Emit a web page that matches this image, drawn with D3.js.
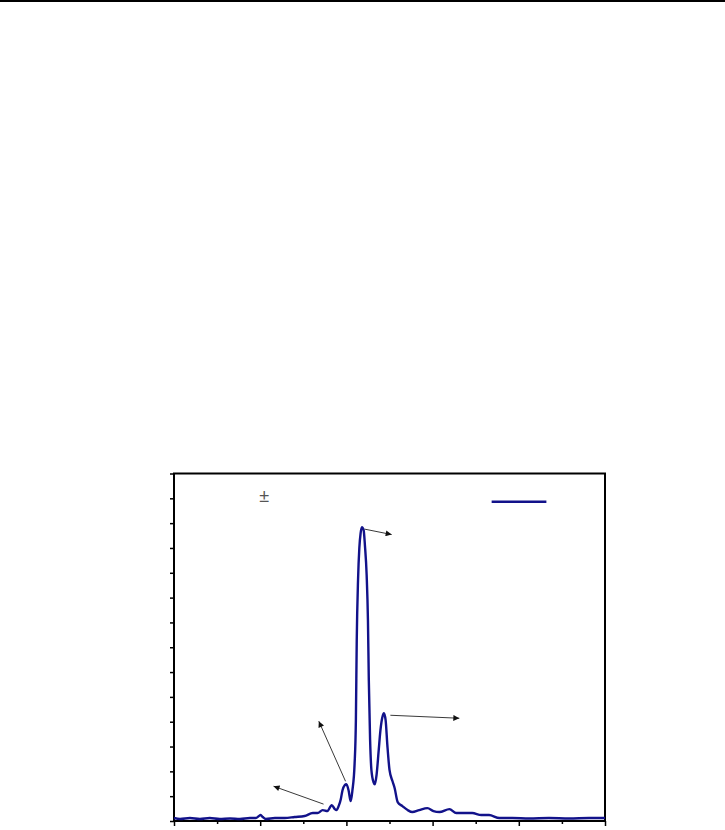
<!DOCTYPE html>
<html>
<head>
<meta charset="utf-8">
<script src="https://d3js.org/d3.v7.min.js"></script>
<style>
  body { margin: 0; background: #fff; }
  svg { display: block; }
</style>
</head>
<body>
<svg width="725" height="830"></svg>
<script>
// spectrum (x in axis units 0..10, y in axis units 0..7)
var xs = [0, 0.14, 0.37, 0.60, 0.83, 1.06, 1.30, 1.53, 1.76, 1.90, 1.97, 2.01, 2.06, 2.13, 2.34, 2.57, 2.80, 3.03,
          3.22, 3.33, 3.45, 3.56, 3.66, 3.73, 3.77, 3.82, 3.87, 3.91, 3.96, 4.00, 4.05, 4.10, 4.14, 4.19, 4.22,
          4.24, 4.27, 4.30, 4.33, 4.36, 4.40, 4.43, 4.47, 4.50, 4.52, 4.55, 4.58, 4.63, 4.66, 4.70, 4.75, 4.79,
          4.84, 4.87, 4.91, 4.95, 5.00, 5.07, 5.12, 5.19, 5.30, 5.42, 5.53, 5.69, 5.88, 6.02, 6.16, 6.39, 6.55,
          6.74, 6.92, 7.13, 7.31, 7.55, 7.85, 8.24, 8.70, 9.17, 9.63, 10];
var ys = [0.06, 0.04, 0.06, 0.04, 0.06, 0.04, 0.05, 0.04, 0.06, 0.06, 0.10, 0.12, 0.08, 0.04, 0.06, 0.06, 0.08, 0.10,
          0.16, 0.16, 0.22, 0.20, 0.32, 0.24, 0.22, 0.30, 0.44, 0.62, 0.72, 0.74, 0.62, 0.40, 0.62, 1.15, 2.03,
          3.64, 4.85, 5.50, 5.80, 5.92, 5.86, 5.55, 4.95, 4.04, 2.84, 1.63, 1.03, 0.78, 0.74, 0.93, 1.43, 1.83,
          2.11, 2.17, 2.03, 1.53, 1.03, 0.80, 0.66, 0.38, 0.30, 0.22, 0.18, 0.22, 0.26, 0.20, 0.18, 0.24, 0.16,
          0.16, 0.16, 0.12, 0.12, 0.06, 0.06, 0.05, 0.06, 0.05, 0.06, 0.06];

// peak annotations: [x1, y1, x2, y2]
var arrows = [
  [4.42, 5.88, 5.05, 5.77],
  [5.02, 2.13, 6.62, 2.07],
  [3.98, 0.80, 3.36, 2.01],
  [3.47, 0.34, 2.31, 0.70]
];

var xMajor = [0, 2, 4, 6, 8, 10];
var xMinor = [1, 3, 5, 7, 9];
var yMajor = [0, 1, 2, 3, 4, 5, 6, 7];
var yMinor = [0.5, 1.5, 2.5, 3.5, 4.5, 5.5, 6.5];

var svg = d3.select("svg"),
    width = +svg.attr("width"),
    height = +svg.attr("height");

var plotLeft = 174, plotRight = 605, plotTop = 473.5, plotBottom = 821;

var x = d3.scaleLinear().domain([0, 10]).range([plotLeft, plotRight]);
var y = d3.scaleLinear().domain([0, 7]).range([plotBottom, plotTop]);

// page rule at the very top
svg.append("line")
    .attr("x1", 0).attr("x2", width)
    .attr("y1", 1).attr("y2", 1)
    .attr("stroke", "#000")
    .attr("stroke-width", 2);

svg.append("defs").append("marker")
    .attr("id", "head")
    .attr("viewBox", "0 0 10 10")
    .attr("refX", 10).attr("refY", 5)
    .attr("markerWidth", 9).attr("markerHeight", 6)
    .attr("markerUnits", "userSpaceOnUse")
    .attr("orient", "auto")
  .append("path")
    .attr("d", "M0,0 L10,5 L0,10 z")
    .attr("fill", "#111");

// axes
svg.append("g")
    .attr("transform", "translate(0," + plotBottom + ")")
    .call(d3.axisBottom(x).tickValues(xMajor).tickSize(5).tickFormat(""));
svg.append("g")
    .attr("transform", "translate(0," + plotBottom + ")")
    .call(d3.axisBottom(x).tickValues(xMinor).tickSize(3).tickFormat(""));
svg.append("g")
    .attr("transform", "translate(" + plotLeft + ",0)")
    .call(d3.axisLeft(y).tickValues(yMajor.concat(yMinor)).tickSize(4).tickFormat(""));

svg.selectAll(".domain").remove();
svg.selectAll(".tick line").attr("stroke", "#000").attr("stroke-width", 1.5);

// frame
svg.append("rect")
    .attr("x", plotLeft).attr("y", plotTop)
    .attr("width", plotRight - plotLeft).attr("height", plotBottom - plotTop)
    .attr("fill", "none")
    .attr("stroke", "#000")
    .attr("stroke-width", 2);

var pts = xs.map(function(d, i) { return [d, ys[i]]; });

var line = d3.line()
    .x(function(d) { return x(d[0]); })
    .y(function(d) { return y(d[1]); })
    .curve(d3.curveMonotoneX);

svg.append("path")
    .datum(pts)
    .attr("d", line)
    .attr("fill", "none")
    .attr("stroke", "#12128a")
    .attr("stroke-width", 2.4)
    .attr("stroke-linejoin", "round");

svg.append("g")
  .selectAll("line")
  .data(arrows)
  .enter().append("line")
    .attr("x1", function(d) { return x(d[0]); })
    .attr("y1", function(d) { return y(d[1]); })
    .attr("x2", function(d) { return x(d[2]); })
    .attr("y2", function(d) { return y(d[3]); })
    .attr("stroke", "#222")
    .attr("stroke-width", 0.9)
    .attr("marker-end", "url(#head)");

// legend swatch
svg.append("line")
    .attr("x1", x(7.37)).attr("x2", x(8.64))
    .attr("y1", y(6.43)).attr("y2", y(6.43))
    .attr("stroke", "#12128a")
    .attr("stroke-width", 2.4);

svg.append("text")
    .attr("x", x(2.09)).attr("y", y(6.43))
    .attr("text-anchor", "middle")
    .attr("font-family", "Liberation Sans, Arial, sans-serif")
    .attr("font-size", 18)
    .attr("fill", "#555")
    .text("±");
</script>
</body>
</html>
